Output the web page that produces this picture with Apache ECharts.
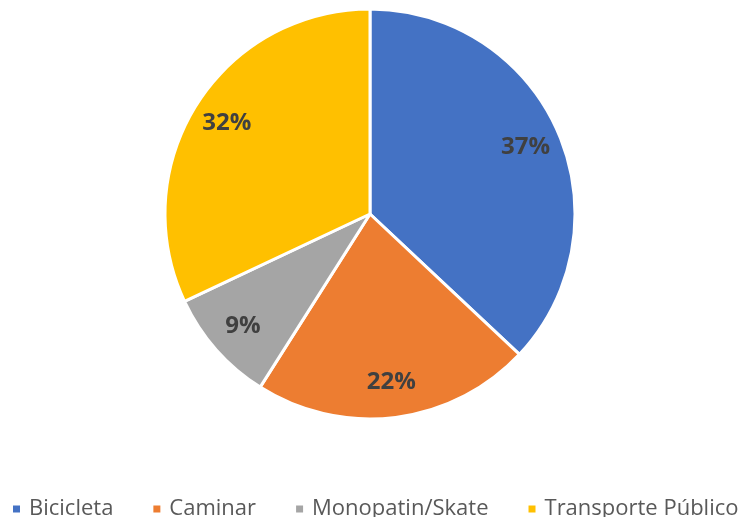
<!DOCTYPE html>
<html>
<head>
    <meta charset="utf-8">
    <title>ECharts</title>
    <script src="https://cdn.jsdelivr.net/npm/echarts@6/dist/echarts.min.js" charset="utf-8"></script>
    <style>
        html, body { margin: 0; padding: 0; background: #fff; }
    </style>
</head>
<body>
<div id="main1" style="width:742px;height:517px;"></div>
<script type="text/javascript">
    // 数据
    var categories = ['Bicicleta', 'Caminar', 'Monopatin/Skate', 'Transporte Público'];
    var values = [37, 22, 9, 32];
    var colors = ['#4472C4', '#ED7D31', '#A5A5A5', '#FFC000'];

    var datalist = [];
    for (var i = 0; i < categories.length; i++) {
        datalist.push({value: values[i], name: categories[i], itemStyle: {color: colors[i]}});
    }

    var myChart1 = echarts.init(document.getElementById('main1'));
    var option1 = {
        animation: false,
        legend: {
            left: 11,
            width: 730,
            top: 498,
            padding: 0,
            icon: 'rect',
            itemWidth: 9,
            itemHeight: 9,
            itemGap: 38,
            textStyle: {fontFamily: 'Open Sans', fontSize: 22, color: '#595959', padding: [0, 0, 0, 3]},
            data: categories
        },
        series: [
            {
                // 饼图本体
                type: 'pie',
                center: [370, 214],
                radius: [0, 205],
                startAngle: 90,
                clockwise: true,
                silent: true,
                itemStyle: {borderColor: '#fff', borderWidth: 3},
                label: {show: false},
                labelLine: {show: false},
                data: datalist
            },
            {
                // 透明环，只用来放标签
                type: 'pie',
                center: [370, 214],
                radius: [128, 205],
                startAngle: 90,
                clockwise: true,
                silent: true,
                itemStyle: {color: 'rgba(0,0,0,0)', borderWidth: 0},
                label: {
                    show: true,
                    position: 'inside',
                    formatter: '{c}%',
                    fontFamily: 'Open Sans',
                    fontWeight: 'bold',
                    fontSize: 24,
                    color: '#404040'
                },
                labelLine: {show: false},
                data: datalist.map(function (d) { return {value: d.value, name: d.name, itemStyle: {color: 'rgba(0,0,0,0)'}}; })
            }
        ]
    };
    myChart1.setOption(option1);
</script>
</body>
</html>
